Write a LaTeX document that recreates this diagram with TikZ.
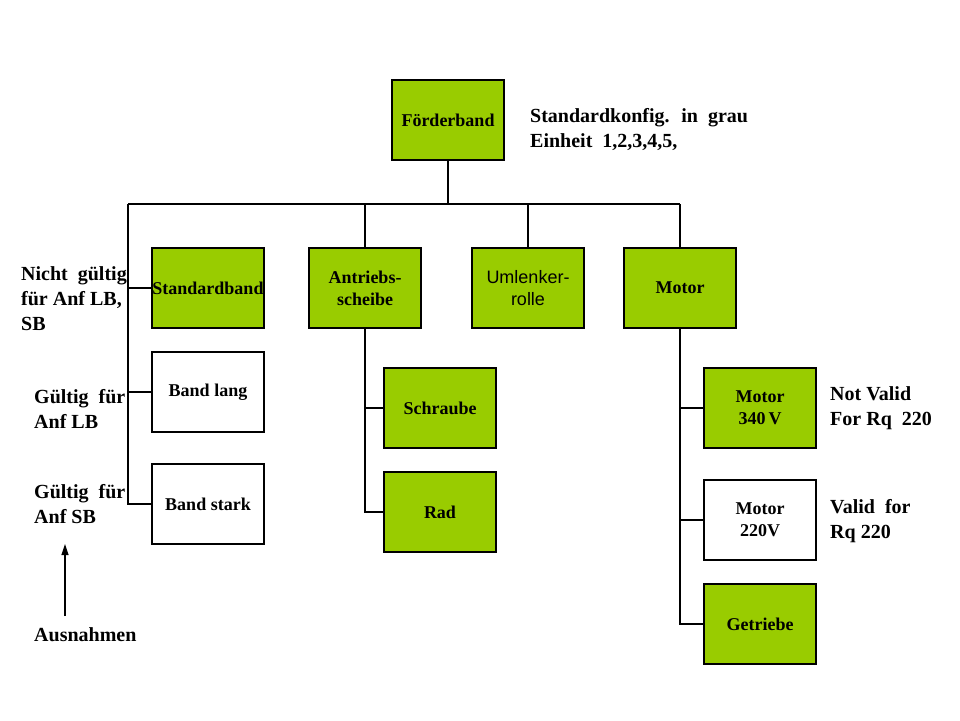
\documentclass[tikz,border=0pt]{standalone}
\usepackage{fontspec}
\setmainfont{Liberation Serif}
\newfontfamily\arialfont{Liberation Sans}
\usetikzlibrary{arrows.meta}
\definecolor{partgreen}{HTML}{99CC00}
\begin{document}
\begin{tikzpicture}[x=1pt,y=-1pt]
		\tikzstyle{every node}+=[inner sep=0pt]
		\tikzstyle{part}=[draw=black, line width=1.3pt, minimum width=112pt, minimum height=80pt, align=center, font=\fontsize{18}{22}\selectfont\bfseries]
		\tikzstyle{stdpart}=[part, fill=partgreen]
		\tikzstyle{note}=[anchor=north west, align=left, font=\fontsize{20}{25}\selectfont\bfseries]
		\tikzstyle{wire}=[black, line width=1.2pt]
		\useasboundingbox (0,0) rectangle (960,720);
		% parts
		\node [stdpart] (foerder) at (448,120) {F\"orderband};
		\node [stdpart] (standard) at (208,288) {Standardband};
		\node [stdpart] (antrieb) at (365,288) {Antriebs-\\scheibe};
		\node [stdpart, font=\fontsize{18}{22}\selectfont\arialfont] (umlenk) at (528,288) {Umlenker-\\rolle};
		\node [stdpart] (motor) at (680,288) {Motor};
		\node [part] (lang) at (208,392) {Band lang};
		\node [part] (stark) at (208,504) {Band stark};
		\node [stdpart] (schraube) at (440,408) {Schraube};
		\node [stdpart] (rad) at (440,512) {Rad};
		\node [stdpart] (m340) at (760,408) {Motor\\340\,V};
		\node [part] (m220) at (760,520) {Motor\\220V};
		\node [stdpart] (getriebe) at (760,624) {Getriebe};
		% tree
		\coordinate (busL) at (128,204);
		\coordinate (busR) at (680,204);
		\draw [wire] (busL) -- (busR);
		\draw [wire] (foerder) -- (foerder |- busL);
		\foreach \n in {antrieb,umlenk,motor}
			\draw [wire] (\n) -- (\n |- busL);
		\draw [wire] (busL) |- (stark);
		\draw [wire] (busL |- standard) -- (standard);
		\draw [wire] (busL |- lang) -- (lang);
		\draw [wire] (antrieb) |- (rad);
		\draw [wire] (antrieb |- schraube) -- (schraube);
		\draw [wire] (motor) |- (getriebe);
		\draw [wire] (motor |- m340) -- (m340);
		\draw [wire] (motor |- m220) -- (m220);
		% notes
		\node [note] (cfg) at (530,108) {Standardkonfig.~ in~ grau\\Einheit~ 1,2,3,4,5,};
		\node [note] (nicht) at (21,266) {Nicht~ g\"ultig\\f\"ur Anf LB,\\SB};
		\node [note] (anflb) at (34,389) {G\"ultig~ f\"ur\\Anf LB};
		\node [note] (anfsb) at (34,484) {G\"ultig~ f\"ur\\Anf SB};
		\node [note] (ausnahmen) at (34,627) {Ausnahmen};
		\node [note] (notvalid) at (830,386) {Not Valid\\For Rq~ 220};
		\node [note] (valid) at (830,499) {Valid~ for\\Rq 220};
		\coordinate (arrowfoot) at (65,616);
		\coordinate (arrowtip) at (65,544);
		\draw [wire, -{Triangle[length=11pt,width=7pt]}] (arrowfoot) -- (arrowtip);
\end{tikzpicture}
\end{document}
